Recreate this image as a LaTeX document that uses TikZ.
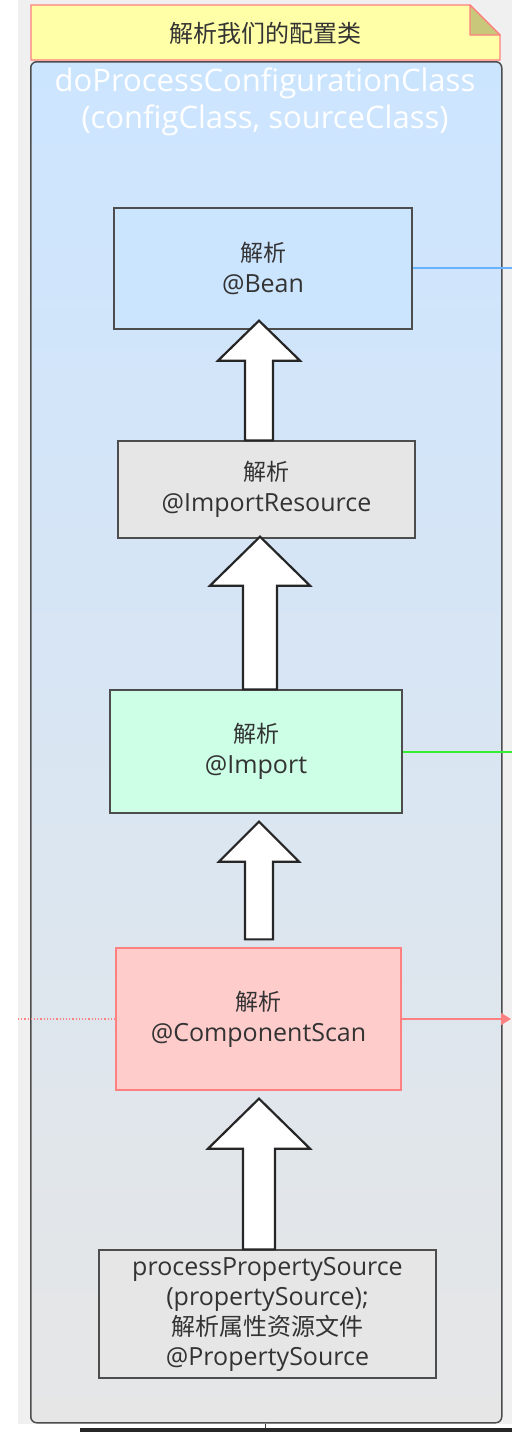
\documentclass[tikz,border=0pt]{standalone}
\usepackage{fontspec}
\setmainfont{Open Sans}
\newfontfamily\cjk{Noto Sans CJK SC}
\usetikzlibrary{calc,arrows.meta}
\definecolor{txt}{HTML}{333333}
\definecolor{bord}{HTML}{4D4D4D}
\definecolor{notefill}{HTML}{FFFFA8}
\definecolor{noteline}{HTML}{FF7F7F}
\definecolor{fold}{HTML}{C9C77A}
\definecolor{bluefill}{HTML}{CCE5FF}
\definecolor{grayfill}{HTML}{E6E6E6}
\definecolor{greenfill}{HTML}{CCFFE6}
\definecolor{redfill}{HTML}{FFCCCC}
\definecolor{redline}{HTML}{FF8080}
\definecolor{blueline}{HTML}{66B2FF}
\definecolor{greenline}{HTML}{33EE33}
\definecolor{bg}{HTML}{F0F0F0}
\newcommand\zh[1]{{\cjk\fontsize{23}{31}\selectfont #1}}
\tikzset{
  box/.style={draw=bord, line width=1.3pt, text=txt, align=center, inner sep=0pt,
    font=\fontsize{25}{31}\selectfont},
  barrow/.style={draw=black!85, line width=2.2pt, fill=white, line join=miter},
}
\newcommand\barrow[8]{\draw[barrow] let \p1=(#1.north), \p2=(#2.south) in
 (#6pt-#8pt,\y1+#3pt) -- (#6pt-#8pt,\y2+#4pt-#5pt) -- (#6pt-#7pt,\y2+#4pt-#5pt) -- (#6pt,\y2+#4pt)
 -- (#6pt+#7pt,\y2+#4pt-#5pt) -- (#6pt+#8pt,\y2+#4pt-#5pt) -- (#6pt+#8pt,\y1+#3pt) -- cycle;}
\begin{document}
\begin{tikzpicture}[x=1pt,y=-1pt]
\useasboundingbox (0,0) rectangle (512,1432);
\fill[white] (0,0) rectangle (512,1432);
\fill[bg] (18,0) rectangle (512,1424);
\fill[black!85] (80,1428) rectangle (512,1432);
% note
\draw[noteline, fill=notefill, line width=1.3pt] (31,5) -- (470,5) -- (500,35) -- (500,60) -- (31,60) -- cycle;
\draw[noteline, fill=fold, line width=1.3pt, line join=round] (470,5) -- (470,35) -- (500,35) -- cycle;
\node[text=txt, font=\cjk\fontsize{24}{26}\selectfont] (note) at (265,33) {解析我们的配置类};
% container
\node[draw=bord, line width=1.5pt, rounded corners=6pt, top color=bluefill, bottom color=grayfill,
  minimum width=471pt, minimum height=1361pt, inner sep=0pt, anchor=north west] (cont) at (30,61) {};
\node[text=white, align=center, font=\fontsize{31}{37}\selectfont] (title) at (265,102)
  {doProcessConfigurationClass\\(configClass, sourceClass)};
% boxes
\node[box, fill=bluefill, minimum width=298pt, minimum height=121pt] (bean) at (263,268.5)
  {\zh{解析}\\@Bean};
\node[box, fill=grayfill, minimum width=297pt, minimum height=97pt] (ir) at (266.5,489.5)
  {\zh{解析}\\@ImportResource};
\node[box, fill=greenfill, minimum width=292pt, minimum height=123pt] (imp) at (256,751.5)
  {\zh{解析}\\@Import};
\node[box, draw=redline, fill=redfill, minimum width=285pt, minimum height=142pt] (cs) at (258.5,1019)
  {\zh{解析}\\@ComponentScan};
\node[box, fill=grayfill, minimum width=337pt, minimum height=128pt, font=\fontsize{25}{30}\selectfont] (ps) at (267.5,1314)
  {processPropertySource\\(propertySource);\\{\cjk\fontsize{24}{30}\selectfont 解析属性资源文件}\\@PropertySource};
% block arrows
\barrow{ir}{bean}{0}{9}{40}{259}{41}{14}
\barrow{imp}{ir}{0}{2}{49}{260}{50}{17}
\barrow{cs}{imp}{8}{-8}{40}{259}{40}{14}
\barrow{ps}{cs}{0}{-8}{50}{259}{51}{16}
% side connectors
\coordinate (bR) at (512,268);
\coordinate (gR) at (512,752);
\coordinate (rR) at (511,1019);
\coordinate (rL) at (18,1019);
\draw[blueline, line width=1.3pt] (bean.east |- bR) -- (bR);
\draw[greenline, line width=1.3pt] (imp.east |- gR) -- (gR);
\draw[redline, line width=1.3pt, -{Triangle[length=10pt,width=12pt]}] (cs.east) -- (rR);
\draw[redline, line width=1.2pt, dotted] (rL) -- (cs.west);
\coordinate (tk) at (265,1428);
\draw[black!80, line width=1pt] (cont.south -| tk) -- (tk);
\end{tikzpicture}
\end{document}
